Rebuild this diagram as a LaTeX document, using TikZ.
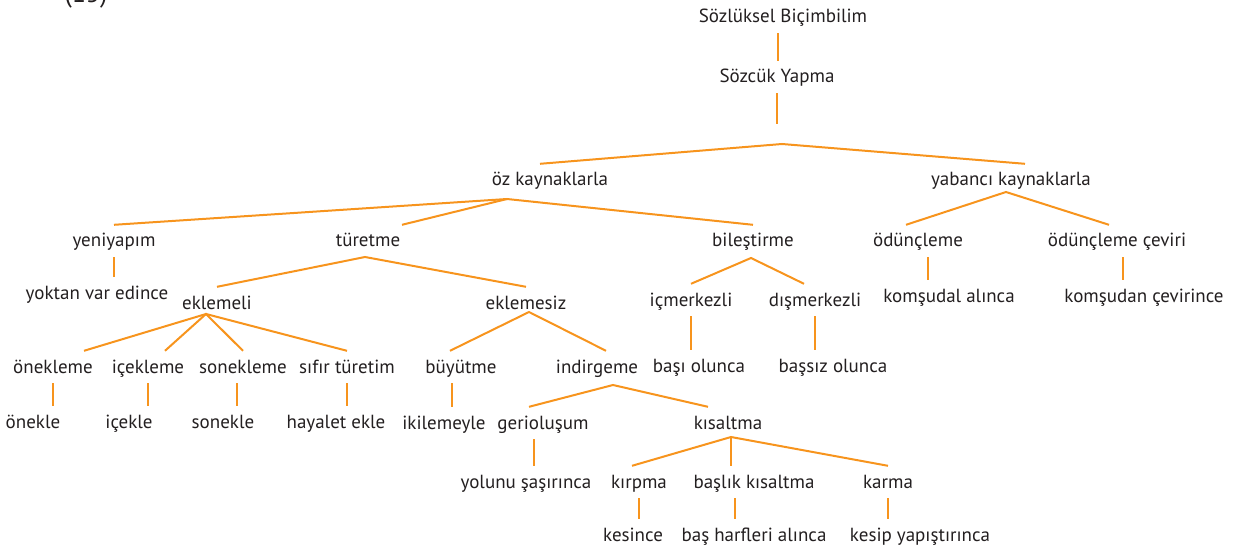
\documentclass[tikz,border=0pt]{standalone}
\usepackage{fontspec}
\setmainfont{PT Sans}
\definecolor{tree}{RGB}{247,148,29}
\definecolor{ink}{RGB}{35,31,32}
\tikzset{
  lbl/.style={font=\fontsize{19}{23}\selectfont, text=ink, text height=18pt,
    text depth=6pt, inner xsep=0pt, inner ysep=4pt},
  br/.style={draw=tree, line width=2pt},
}
\begin{document}
\begin{tikzpicture}[x=1pt,y=-1pt]
    \clip (0,0) rectangle (1239,545);
    \node[font=\fontsize{26}{30}\selectfont, text=ink, anchor=base] (num) at (86,3) {(15)};

    % labels, top to bottom
    \node[lbl] (sb) at (783,17) {Sözlüksel Biçimbilim};
    \node[lbl] (sy) at (777,77) {Sözcük Yapma};
    \node[lbl] (oz) at (550,180) {öz kaynaklarla};
    \node[lbl] (yab) at (1011,180) {yabancı kaynaklarla};
    \node[lbl] (yeni) at (114,241) {yeniyapım};
    \node[lbl] (tur) at (368,241) {türetme};
    \node[lbl] (bil) at (753,241) {bileştirme};
    \node[lbl] (odu) at (918,241) {ödünçleme};
    \node[lbl] (cev) at (1117,241) {ödünçleme çeviri};
    \node[lbl] (yok) at (97,293) {yoktan var edince};
    \node[lbl] (kal) at (949,296) {komşudal alınca};
    \node[lbl] (kce) at (1144,296) {komşudan çevirince};
    \node[lbl] (ekl) at (217,303) {eklemeli};
    \node[lbl] (eks) at (526,303) {eklemesiz};
    \node[lbl] (icm) at (691,300) {içmerkezli};
    \node[lbl] (dis) at (815,300) {dışmerkezli};
    \node[lbl] (onk) at (53,367) {önekleme};
    \node[lbl] (ick) at (148,367) {içekleme};
    \node[lbl] (snk) at (243,367) {sonekleme};
    \node[lbl] (sif) at (347,367) {sıfır türetim};
    \node[lbl] (buy) at (461,367) {büyütme};
    \node[lbl] (ind) at (597,367) {indirgeme};
    \node[lbl] (bas) at (699,366) {başı olunca};
    \node[lbl] (bsz) at (833,366) {başsız olunca};
    \node[lbl] (one) at (33,422) {önekle};
    \node[lbl] (ice) at (129,422) {içekle};
    \node[lbl] (son) at (223,422) {sonekle};
    \node[lbl] (hay) at (336,422) {hayalet ekle};
    \node[lbl] (iki) at (444,423) {ikilemeyle};
    \node[lbl] (ger) at (543,423) {gerioluşum};
    \node[lbl] (kis) at (728,423) {kısaltma};
    \node[lbl] (yol) at (526,482) {yolunu şaşırınca};
    \node[lbl] (kir) at (639,482) {kırpma};
    \node[lbl] (bkl) at (754,482) {başlık kısaltma};
    \node[lbl] (kar) at (888,482) {karma};
    \node[lbl] (kes) at (633,535) {kesince};
    \node[lbl] (bha) at (754,535) {baş harfleri alınca};
    \node[lbl] (kyp) at (920,535) {kesip yapıştırınca};

    % branching points
    \coordinate (sy-stem) at (778,124);
    \coordinate (j-sy) at (782,144);
    \coordinate (j-oz) at (507,199);
    \coordinate (j-yab) at (1006,192);
    \coordinate (j-tur) at (365,257);
    \coordinate (j-bil) at (751,258);
    \coordinate (j-ekl) at (206,314);
    \coordinate (j-eks) at (529,312);
    \coordinate (j-ind) at (613,385);
    \coordinate (j-kis) at (731,437);

    % stems
    \draw[br] ([xshift=-5pt]sb.south) -- ([xshift=-5pt]sb.south |- sy.north);
    \draw[br] (sy.south) -- (sy.south |- sy-stem);
    \draw[br] (yeni.south) -- (yeni.south |- yok.north);
    \draw[br] ([xshift=10pt]odu.south) -- ([xshift=10pt]odu.south |- kal.north);
    \draw[br] ([xshift=6pt]cev.south) -- ([xshift=6pt]cev.south |- kce.north);
    \draw[br] (icm.south) -- (icm.south |- bas.north);
    \draw[br] (dis.south) -- (dis.south |- bsz.north);
    \draw[br] (onk.south) -- (onk.south |- one.north);
    \draw[br] (ick.south) -- (ick.south |- ice.north);
    \draw[br] ([xshift=-6pt]snk.south) -- ([xshift=-6pt]snk.south |- son.north);
    \draw[br] (sif.south) -- (sif.south |- hay.north);
    \draw[br] ([xshift=-9pt]buy.south) -- ([xshift=-9pt]buy.south |- iki.north);
    \draw[br] ([xshift=-9pt]ger.south) -- ([xshift=-9pt]ger.south |- yol.north);
    \draw[br] (kir.south) -- (kir.south |- kes.north);
    \draw[br] ([xshift=-19pt]bkl.south) -- ([xshift=-19pt]bkl.south |- bha.north);
    \draw[br] (kar.south) -- (kar.south |- kyp.north);

    % branches
    \draw[br] ([xshift=-10pt]oz.north) -- (j-sy) -- ([xshift=14pt]yab.north);
    \draw[br] (yeni.north) -- (j-oz) -- (bil.north);
    \draw[br] (j-oz) -- ([xshift=34pt]tur.north);
    \draw[br] ([xshift=-12pt]odu.north) -- (j-yab) -- ([xshift=-8pt]cev.north);
    \draw[br] (ekl.north) -- (j-tur) -- (eks.north);
    \draw[br] (icm.north) -- (j-bil) -- ([xshift=-11pt]dis.north);
    \draw[br] ([xshift=31pt]onk.north) -- (j-ekl) -- (sif.north);
    \draw[br] ([xshift=17pt]ick.north) -- (j-ekl) -- (snk.north);
    \draw[br] ([xshift=-11pt]buy.north) -- (j-eks) -- ([xshift=9pt]ind.north);
    \draw[br] ([xshift=-14pt]ger.north) -- (j-ind) -- ([xshift=-20pt]kis.north);
    \draw[br] ([xshift=-7pt]kir.north) -- (j-kis) -- (kar.north);
    \draw[br] (j-kis) -- ([xshift=-23pt]bkl.north);
\end{tikzpicture}
\end{document}
